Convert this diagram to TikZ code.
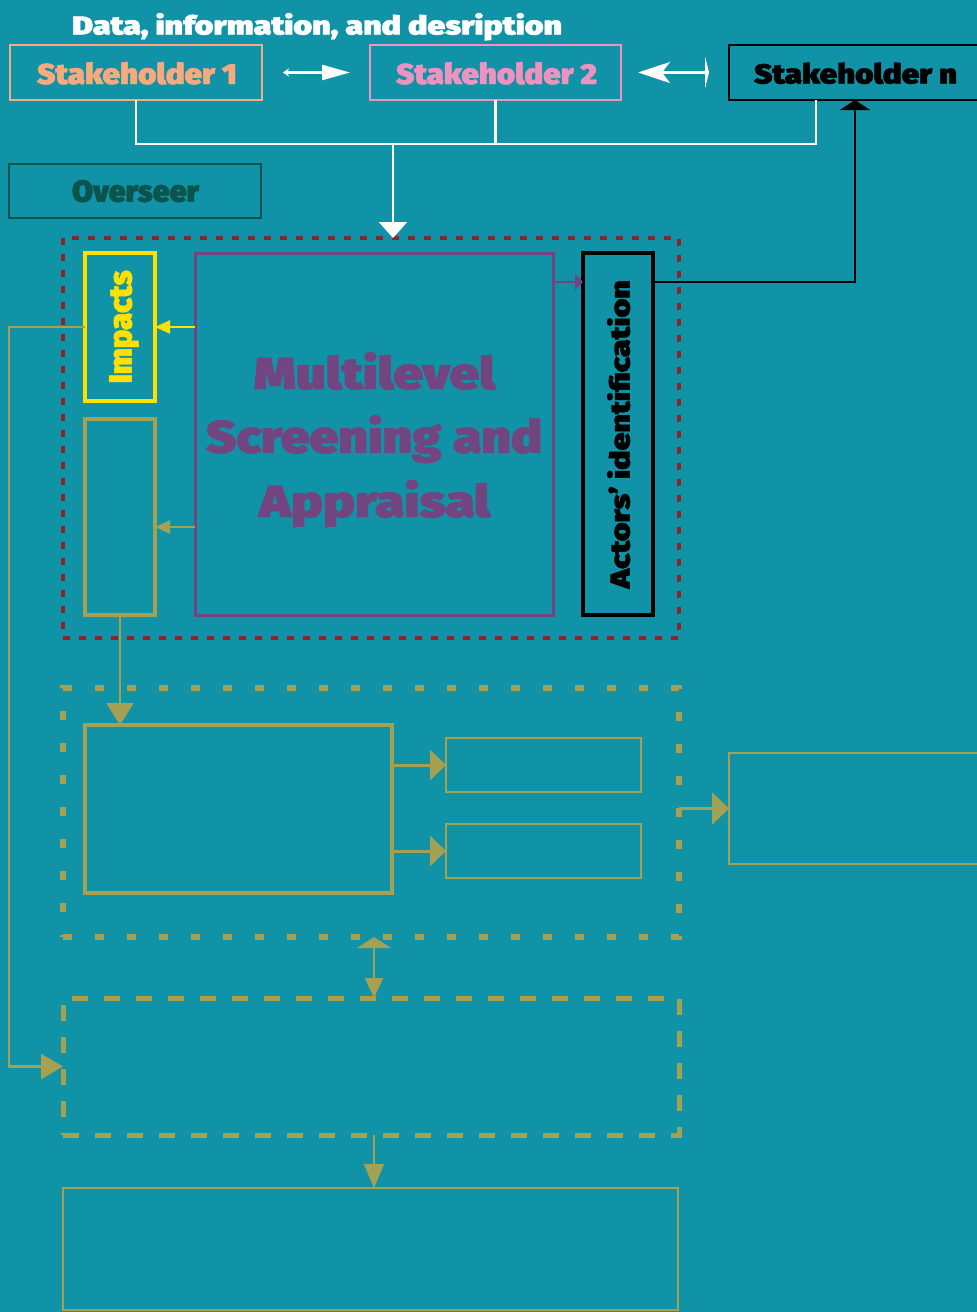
\documentclass[tikz,border=0pt]{standalone}
\usepackage{fontspec}
\newfontfamily\hf{Fira Sans Black}[FakeBold=1.5]
\usetikzlibrary{arrows.meta}
\definecolor{bg}{HTML}{1093A6}
\definecolor{olive}{HTML}{A6A052}
\definecolor{dred}{HTML}{862728}
\definecolor{purp}{HTML}{734580}
\definecolor{yel}{HTML}{FFE100}
\definecolor{peach}{HTML}{F8A97E}
\definecolor{pinkc}{HTML}{EE92BF}
\definecolor{ovg}{HTML}{0B534D}
\newcommand{\fittext}[3]{\resizebox{#1pt}{#2pt}{\hf #3}}
\tikzset{
  box/.style={rectangle, inner sep=0pt, outer sep=0pt},
  txt/.style={inner sep=0pt, outer sep=0pt, anchor=base west},
  wline/.style={draw=white, line width=2.5pt},
  oline/.style={draw=olive, line width=2.5pt},
}
\begin{document}
\begin{tikzpicture}[x=1pt,y=-1pt]
\clip (0,0) rectangle (977,1312);
\fill[bg] (0,0) rectangle (977,1312);
\useasboundingbox (0,0) rectangle (977,1312);

% ---------- stakeholders ----------
\node[box, draw=peach, line width=2pt, minimum width=252pt, minimum height=55pt] (s1) at (136,72.5) {};
\node[box, draw=pinkc, line width=2pt, minimum width=251pt, minimum height=55pt] (s2) at (495.5,72.5) {};
\node[box, draw=black, line width=2pt, minimum width=260pt, minimum height=55pt] (sn) at (859,72.5) {};
\node[box, draw=ovg, line width=2pt, minimum width=252pt, minimum height=54pt] (ov) at (135,191) {};

\node[txt, text=white] (title) at (72,34.5) {\fittext{490}{21.5}{Data, information, and desription}};
\node[txt, text=peach] (s1t) at (37,84) {\fittext{200}{22}{Stakeholder 1}};
\node[txt, text=pinkc] (s2t) at (396,84) {\fittext{201}{22}{Stakeholder 2}};
\node[txt, text=black] (snt) at (754,83.5) {\fittext{203}{21}{Stakeholder n}};
\node[txt, text=ovg] (ovt) at (72,201.7) {\fittext{127}{21.7}{Overseer}};

% ---------- red dotted group ----------
\node[box, draw=dred, line width=4.5pt, dash pattern=on 7pt off 9pt, minimum width=616pt, minimum height=400pt] (red) at (371,438) {};
\node[box, draw=yel, line width=4pt, minimum width=70pt, minimum height=148pt] (imp) at (120,327) {};
\node[box, draw=olive, line width=4pt, minimum width=70pt, minimum height=196pt] (ol1) at (120,517) {};
\node[box, draw=purp, line width=3pt, minimum width=358pt, minimum height=362pt] (ml) at (374,434) {};
\node[box, draw=black, line width=4pt, minimum width=70pt, minimum height=362pt] (act) at (618,434) {};

\node[txt, text=purp] (ml1) at (254,389) {\fittext{241}{37}{Multilevel}};
\node[txt, text=purp] (ml2) at (206,452.7) {\fittext{336}{37.7}{Screening and}};
\node[txt, text=purp] (ml3) at (259,517) {\fittext{231}{37}{Appraisal}};
\node[txt, text=yel, rotate=90] (impt) at (131.6,383.3) {\fittext{113}{22.4}{Impacts}};
\node[txt, text=black, rotate=90] (actt) at (629.6,588.3) {\fittext{308}{22.6}{Actors’ identification}};

% ---------- lower groups ----------
\node[box, draw=olive, line width=5.5pt, dash pattern=on 9pt off 23pt, minimum width=616pt, minimum height=249pt] (d1) at (371,812.5) {};
\node[box, draw=olive, line width=4pt, minimum width=307pt, minimum height=168pt] (a) at (238.5,809) {};
\node[box, draw=olive, line width=2pt, minimum width=195pt, minimum height=54pt] (b1) at (543.5,765) {};
\node[box, draw=olive, line width=2pt, minimum width=195pt, minimum height=54pt] (b2) at (543.5,851) {};
\node[box, draw=olive, line width=2pt, minimum width=256pt, minimum height=111pt] (c) at (857,808.5) {};
\node[box, draw=olive, line width=5pt, dash pattern=on 16pt off 16pt, minimum width=616pt, minimum height=137pt] (d2) at (371,1066.5) {};
\node[box, draw=olive, line width=2pt, minimum width=615pt, minimum height=122pt] (dbox) at (370.5,1249) {};

% ---------- connectors ----------
\coordinate (bus) at (393,144);
\coordinate (snb) at ([xshift=-43pt]sn.south);
\coordinate (snc) at ([xshift=-4pt]sn.south);

\draw[wline, {Stealth[length=6pt,width=8pt]}-{Triangle[length=28pt,width=15pt]}, shorten <=21pt, shorten >=20pt] (s1.east) -- (s2.west);
\draw[wline, {Stealth[length=32pt,width=21pt,inset=8pt]}-{Triangle[length=4pt,width=32pt]}, shorten <=17pt, shorten >=20pt] (s2.east) -- (sn.west);

\draw[wline] (s1.south) -- (s1.south |- bus) -- (bus -| snb) -- (snb);
\draw[wline] (s2.south) -- (s2.south |- bus);
\draw[wline, -{Triangle[length=16pt,width=28pt]}] (bus) -- (bus |- red.north);

\draw[draw=purp, line width=2.5pt, -{Triangle[length=8pt,width=16pt]}] ([yshift=-29pt]ml.north east) -- ([yshift=-29pt]act.north west);
\draw[draw=black, line width=2.5pt, -{Triangle[length=10pt,width=30pt]}] ([yshift=-29pt]act.north east) -| (snc);

\draw[draw=yel, line width=2.5pt, -{Triangle[length=15pt,width=13pt]}] (ml.west |- imp.east) -- (imp.east);
\draw[oline, -{Triangle[length=15pt,width=13pt]}] ([yshift=-93pt]ml.west) -- ([yshift=-10pt]ol1.east);

\draw[oline, -{Triangle[length=22pt,width=25pt]}] (imp.west) -- ++(-76,0) |- (d2.west);
\draw[oline, -{Triangle[length=22pt,width=27pt]}] (ol1.south) -- (ol1.south |- a.north);

\draw[draw=olive, line width=3pt, -{Triangle[length=16pt,width=30pt]}] (a.east |- b1.west) -- (b1.west);
\draw[draw=olive, line width=3pt, -{Triangle[length=16pt,width=30pt]}] (a.east |- b2.west) -- (b2.west);
\draw[draw=olive, line width=3pt, -{Triangle[length=17pt,width=32pt]}] (d1.east |- c.west) -- (c.west);

\draw[draw=olive, line width=2pt, {Triangle[length=11pt,width=34pt]}-{Triangle[length=20pt,width=18pt]}] ([xshift=3pt]d1.south) -- ([xshift=3pt]d1.south |- d2.north);
\draw[draw=olive, line width=2pt, -{Triangle[length=24pt,width=20pt]}] ([xshift=3pt]d2.south) -- ([xshift=3pt]d2.south |- dbox.north);
\end{tikzpicture}
\end{document}
